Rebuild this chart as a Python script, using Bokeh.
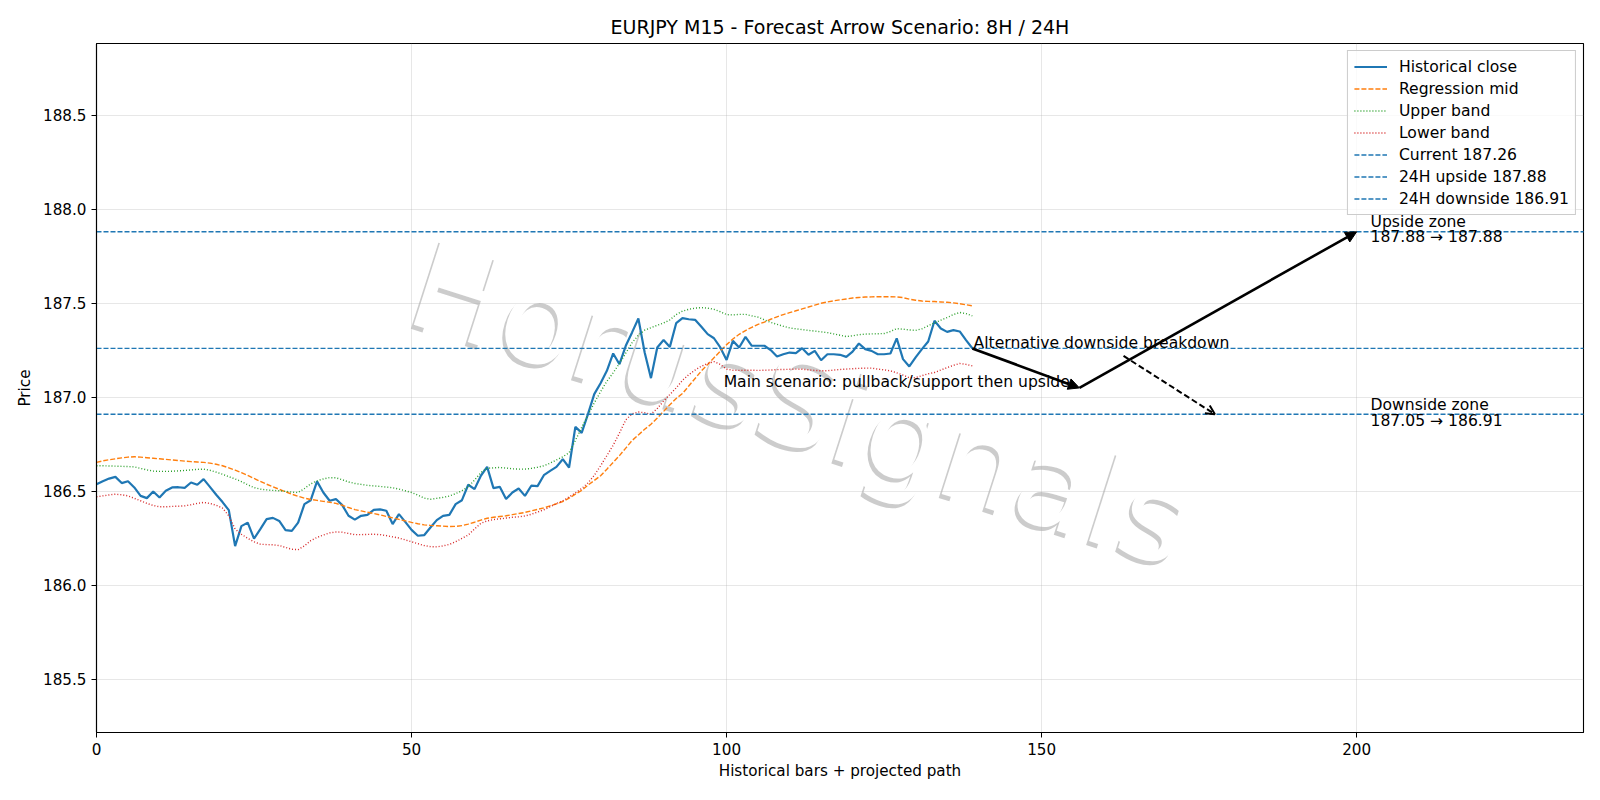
from bokeh.plotting import figure
from bokeh.models import (ColumnDataSource, Range1d, FixedTicker, PrintfTickFormatter,
                          Legend, LegendItem, Arrow, NormalHead, OpenHead)
from bokeh.core.properties import value
from bokeh.embed import file_html
from bokeh.resources import INLINE

# ---------------- data ----------------
close = [186.538, 186.554, 186.568, 186.577, 186.544, 186.554, 186.521, 186.476, 186.464, 186.499,
         186.467, 186.503, 186.521, 186.522, 186.519, 186.547, 186.535, 186.565, 186.524, 186.482,
         186.443, 186.400, 186.209, 186.315, 186.334, 186.249, 186.299, 186.352, 186.359, 186.343,
         186.294, 186.290, 186.334, 186.432, 186.453, 186.553, 186.494, 186.450, 186.459, 186.427,
         186.370, 186.350, 186.370, 186.375, 186.402, 186.404, 186.397, 186.326, 186.379, 186.338,
         186.295, 186.264, 186.267, 186.308, 186.347, 186.370, 186.375, 186.432, 186.453, 186.535,
         186.512, 186.583, 186.630, 186.517, 186.524, 186.459, 186.494, 186.515, 186.476, 186.530,
         186.528, 186.586, 186.609, 186.630, 186.671, 186.627, 186.843, 186.811, 186.911, 187.017,
         187.075, 187.141, 187.233, 187.176, 187.274, 187.345, 187.419, 187.238, 187.102, 187.265,
         187.305, 187.268, 187.394, 187.421, 187.415, 187.412, 187.375, 187.336, 187.314, 187.265,
         187.199, 187.300, 187.265, 187.321, 187.274, 187.274, 187.274, 187.251, 187.217, 187.229,
         187.238, 187.235, 187.261, 187.226, 187.247, 187.197, 187.229, 187.229, 187.226, 187.215,
         187.243, 187.286, 187.256, 187.247, 187.229, 187.229, 187.233, 187.313, 187.203, 187.164,
         187.212, 187.256, 187.297, 187.407, 187.366, 187.348, 187.357, 187.350, 187.304, 187.261]

reg_mid = [186.654, 186.662, 186.668, 186.673, 186.678, 186.682, 186.684, 186.682, 186.679, 186.676,
           186.673, 186.670, 186.667, 186.664, 186.661, 186.658, 186.656, 186.654, 186.650, 186.644,
           186.636, 186.625, 186.613, 186.600, 186.585, 186.569, 186.553, 186.538, 186.524, 186.511,
           186.498, 186.485, 186.474, 186.464, 186.457, 186.452, 186.447, 186.442, 186.436, 186.426,
           186.414, 186.403, 186.396, 186.389, 186.382, 186.375, 186.367, 186.359, 186.351, 186.343,
           186.335, 186.328, 186.322, 186.319, 186.317, 186.315, 186.313, 186.314, 186.318, 186.326,
           186.336, 186.347, 186.357, 186.362, 186.366, 186.370, 186.376, 186.382, 186.388, 186.396,
           186.404, 186.412, 186.423, 186.434, 186.446, 186.464, 186.485, 186.505, 186.533, 186.558,
           186.583, 186.618, 186.654, 186.690, 186.730, 186.770, 186.800, 186.830, 186.857, 186.890,
           186.925, 186.960, 186.994, 187.020, 187.060, 187.100, 187.140, 187.175, 187.210, 187.245,
           187.280, 187.310, 187.335, 187.355, 187.372, 187.388, 187.400, 187.415, 187.428, 187.440,
           187.450, 187.460, 187.470, 187.480, 187.490, 187.500, 187.507, 187.513, 187.518, 187.523,
           187.528, 187.531, 187.533, 187.534, 187.535, 187.535, 187.535, 187.534, 187.530, 187.522,
           187.516, 187.512, 187.510, 187.509, 187.507, 187.505, 187.502, 187.498, 187.492, 187.486]

upper_band = [186.636, 186.636, 186.635, 186.634, 186.633, 186.632, 186.630, 186.622, 186.614, 186.608,
              186.606, 186.606, 186.607, 186.609, 186.611, 186.614, 186.617, 186.618, 186.612, 186.602,
              186.591, 186.578, 186.566, 186.552, 186.535, 186.520, 186.512, 186.508, 186.505, 186.503,
              186.500, 186.496, 186.494, 186.515, 186.540, 186.556, 186.566, 186.573, 186.572, 186.562,
              186.550, 186.542, 186.537, 186.532, 186.529, 186.526, 186.523, 186.519, 186.512, 186.503,
              186.494, 186.480, 186.464, 186.458, 186.463, 186.468, 186.475, 186.488, 186.503, 186.525,
              186.560, 186.600, 186.623, 186.625, 186.627, 186.624, 186.620, 186.618, 186.618, 186.622,
              186.628, 186.636, 186.650, 186.667, 186.684, 186.705, 186.770, 186.840, 186.905, 186.970,
              187.030, 187.085, 187.130, 187.180, 187.235, 187.290, 187.330, 187.357, 187.370, 187.383,
              187.395, 187.412, 187.440, 187.458, 187.468, 187.474, 187.477, 187.474, 187.468, 187.455,
              187.440, 187.438, 187.441, 187.441, 187.433, 187.426, 187.412, 187.398, 187.388, 187.378,
              187.369, 187.364, 187.360, 187.356, 187.352, 187.348, 187.344, 187.337, 187.330, 187.323,
              187.327, 187.333, 187.336, 187.337, 187.338, 187.339, 187.350, 187.365, 187.362, 187.358,
              187.356, 187.364, 187.380, 187.396, 187.410, 187.424, 187.440, 187.451, 187.445, 187.433]

lower_band = [186.471, 186.476, 186.481, 186.485, 186.482, 186.476, 186.463, 186.450, 186.436, 186.425,
              186.418, 186.418, 186.420, 186.421, 186.423, 186.429, 186.436, 186.441, 186.436, 186.426,
              186.411, 186.370, 186.300, 186.272, 186.250, 186.232, 186.219, 186.217, 186.216, 186.212,
              186.202, 186.192, 186.190, 186.210, 186.238, 186.255, 186.268, 186.279, 186.284, 186.283,
              186.276, 186.270, 186.270, 186.271, 186.272, 186.270, 186.265, 186.258, 186.252, 186.242,
              186.232, 186.222, 186.212, 186.206, 186.205, 186.210, 186.218, 186.232, 186.250, 186.268,
              186.300, 186.330, 186.343, 186.350, 186.354, 186.358, 186.362, 186.365, 186.369, 186.378,
              186.390, 186.402, 186.418, 186.435, 186.450, 186.470, 186.492, 186.515, 186.545, 186.585,
              186.636, 186.690, 186.745, 186.810, 186.880, 186.912, 186.922, 186.918, 186.910, 186.940,
              186.980, 187.015, 187.050, 187.090, 187.120, 187.145, 187.165, 187.180, 187.190, 187.175,
              187.150, 187.144, 187.143, 187.144, 187.144, 187.143, 187.144, 187.145, 187.147, 187.148,
              187.149, 187.150, 187.149, 187.146, 187.143, 187.141, 187.141, 187.145, 187.148, 187.150,
              187.152, 187.154, 187.155, 187.155, 187.150, 187.146, 187.141, 187.130, 187.118, 187.104,
              187.105, 187.115, 187.125, 187.132, 187.145, 187.158, 187.170, 187.180, 187.175, 187.167]

bars = list(range(len(close)))

current_price = 187.26
upside_24h = 187.88
downside_24h = 186.91
downside_zone_from = 187.05

# projected scenario paths (bar index, price)
main_path_x = [139, 156, 200]
main_path_y = [187.26, 187.05, 187.88]
alt_path_x = [163, 177.5]
alt_path_y = [187.22, 186.91]

x_ticks = [0, 50, 100, 150, 200]
y_ticks = [185.5, 186.0, 186.5, 187.0, 187.5, 188.0, 188.5]
x_lim = (0, 236)
y_lim = (185.218, 188.881)

title_text = "EURJPY M15 - Forecast Arrow Scenario: 8H / 24H"
watermark = "HorusSignals"

# ---------------- figure ----------------
FONT = "DejaVu Sans"
SMALL = "15.6px"
TICK = "15.2px"
p = figure(width=1600, height=800, output_backend="svg", toolbar_location=None,
           x_range=Range1d(*x_lim), y_range=Range1d(*y_lim),
           min_border_left=96, min_border_right=17, min_border_top=43, min_border_bottom=68)
p.background_fill_color = "white"
p.border_fill_color = "white"
p.outline_line_color = "black"
p.outline_line_width = 1.1

p.title.text = title_text
p.title.align = "center"
p.title.text_font = FONT
p.title.text_font_size = "19px"
p.title.text_font_style = "normal"
p.title.text_color = "black"
p.title.standoff = 11

for ax in (p.xaxis[0], p.yaxis[0]):
    ax.axis_line_color = "black"
    ax.axis_line_width = 1.1
    ax.major_tick_line_color = "black"
    ax.major_tick_out = 5
    ax.major_tick_in = 0
    ax.minor_tick_line_color = None
    ax.major_label_text_font = FONT
    ax.major_label_text_font_size = TICK
    ax.major_label_text_color = "black"
    ax.axis_label_text_font = FONT
    ax.axis_label_text_font_size = TICK
    ax.axis_label_text_font_style = "normal"
    ax.axis_label_text_color = "black"

p.xaxis.ticker = FixedTicker(ticks=x_ticks)
p.yaxis.ticker = FixedTicker(ticks=y_ticks)
p.xaxis.formatter = PrintfTickFormatter(format="%d")
p.yaxis.formatter = PrintfTickFormatter(format="%.1f")
p.xaxis.axis_label = "Historical bars + projected path"
p.yaxis.axis_label = "Price"
p.xaxis.major_label_standoff = 5
p.xaxis.axis_label_standoff = 4
p.yaxis.major_label_standoff = 5
p.yaxis.axis_label_standoff = 6

p.xgrid.ticker = FixedTicker(ticks=x_ticks)
p.ygrid.ticker = FixedTicker(ticks=y_ticks)
p.grid.grid_line_color = "#b0b0b0"
p.grid.grid_line_alpha = 0.3
p.grid.grid_line_width = 1

# watermark (figure centre): gray shadow + white text, below the grid
wm_x = (x_lim[0] + (x_lim[1] - x_lim[0]) * (800 - 96) / (1583 - 96))
wm_y = (y_lim[1] - (y_lim[1] - y_lim[0]) * (403 - 43) / (732 - 43))
wm_angle = -0.31
p.text(x=[wm_x], y=[wm_y], text=[watermark], angle=wm_angle, x_offset=-3, y_offset=4,
       text_font=value(FONT), text_font_size=value("124px"), text_color="#999999",
       text_alpha=0.5, text_align="center", text_baseline="middle", level="image")
p.text(x=[wm_x], y=[wm_y], text=[watermark], angle=wm_angle,
       text_font=value(FONT), text_font_size=value("124px"), text_color="white",
       text_alpha=1.0, text_align="center", text_baseline="middle", level="image")

src = ColumnDataSource(dict(x=bars, close=close, mid=reg_mid, up=upper_band, lo=lower_band))
r_close = p.line("x", "close", source=src, line_color="#1f77b4", line_width=2.2)
r_mid = p.line("x", "mid", source=src, line_color="#ff7f0e", line_width=1.4, line_dash="5 2")
r_up = p.line("x", "up", source=src, line_color="#2ca02c", line_width=1.4, line_dash="1 2")
r_lo = p.line("x", "lo", source=src, line_color="#d62728", line_width=1.4, line_dash="1 2")

lvl_renderers = []
for lvl in (current_price, upside_24h, downside_24h):
    r = p.ray(x=[x_lim[0]], y=[lvl], length=0, angle=0, line_color="#1f77b4",
              line_width=1.4, line_dash="5 2")
    lvl_renderers.append(r)

# scenario arrows
for i in range(len(main_path_x) - 1):
    p.add_layout(Arrow(end=NormalHead(size=11, fill_color="black", line_color="black"),
                       x_start=main_path_x[i], y_start=main_path_y[i],
                       x_end=main_path_x[i + 1], y_end=main_path_y[i + 1],
                       line_color="black", line_width=2.6))
p.add_layout(Arrow(end=OpenHead(size=9, line_color="black", line_width=2),
                   x_start=alt_path_x[0], y_start=alt_path_y[0],
                   x_end=alt_path_x[1], y_end=alt_path_y[1],
                   line_color="black", line_width=2, line_dash="6 3"))

# annotation texts (positioned by their vertical centres)
ts = dict(text_font=value(FONT), text_font_size=value(SMALL), text_color="black",
          text_baseline="middle")
p.text(x=[139.2], y=[187.289], text=["Alternative downside breakdown"],
       text_align="left", **ts)
p.text(x=[127.0], y=[187.081], text=["Main scenario: pullback/support then upside"],
       text_align="center", **ts)
p.text(x=[202.2, 202.2], y=[187.934, 187.851],
       text=["Upside zone", f"{upside_24h:.2f} \u2192 {upside_24h:.2f}"],
       text_align="left", **ts)
p.text(x=[202.2, 202.2], y=[186.959, 186.873],
       text=["Downside zone", f"{downside_zone_from:.2f} \u2192 {downside_24h:.2f}"],
       text_align="left", **ts)

legend = Legend(items=[
    LegendItem(label="Historical close", renderers=[r_close]),
    LegendItem(label="Regression mid", renderers=[r_mid]),
    LegendItem(label="Upper band", renderers=[r_up]),
    LegendItem(label="Lower band", renderers=[r_lo]),
    LegendItem(label=f"Current {current_price:.2f}", renderers=[lvl_renderers[0]]),
    LegendItem(label=f"24H upside {upside_24h:.2f}", renderers=[lvl_renderers[1]]),
    LegendItem(label=f"24H downside {downside_24h:.2f}", renderers=[lvl_renderers[2]]),
], location="top_right")
legend.margin = 7
legend.padding = 6
legend.spacing = 3
legend.label_height = 19
legend.glyph_height = 19
legend.glyph_width = 33
legend.label_standoff = 12
legend.label_text_font = FONT
legend.label_text_font_size = SMALL
legend.label_text_color = "black"
legend.border_line_color = "#cccccc"
legend.border_line_alpha = 1.0
legend.background_fill_alpha = 0.8
p.add_layout(legend)

open("out.html", "w").write(file_html(p, INLINE))
